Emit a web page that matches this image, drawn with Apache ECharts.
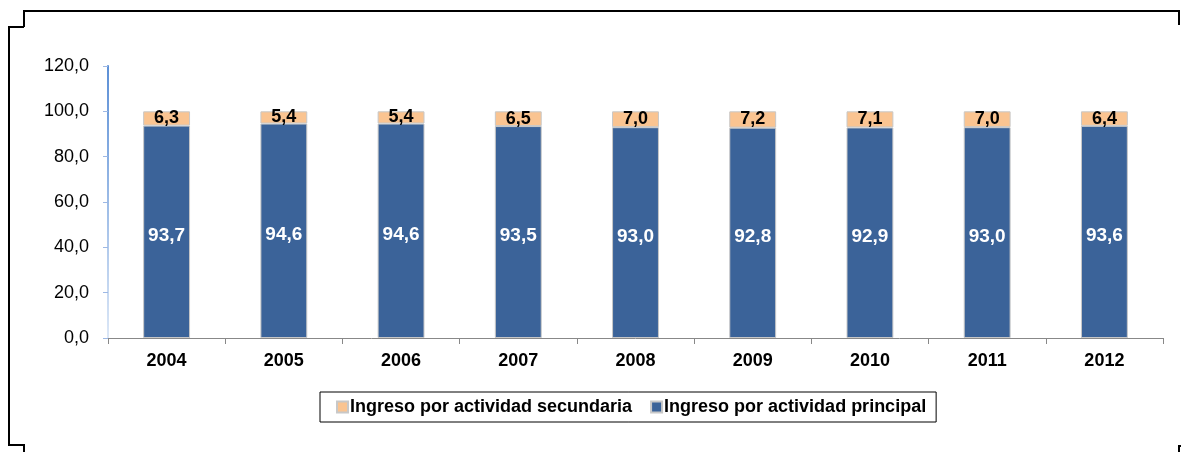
<!DOCTYPE html>
<html>
<head>
<meta charset="utf-8">
<script src="https://cdn.jsdelivr.net/npm/echarts@6/dist/echarts.min.js"></script>
<style>
  html, body { margin: 0; padding: 0; background: #fff; }
  #chart { width: 1181px; height: 452px; }
</style>
</head>
<body>
<div id="chart"></div>
<script>
const years = ['2004', '2005', '2006', '2007', '2008', '2009', '2010', '2011', '2012'];
const secundaria = [6.3, 5.4, 5.4, 6.5, 7.0, 7.2, 7.1, 7.0, 6.4];
const principal = [93.7, 94.6, 94.6, 93.5, 93.0, 92.8, 92.9, 93.0, 93.6];

const FONT = '"Liberation Sans Narrow", "Arial Narrow", "Liberation Sans", Arial, sans-serif';
const fmt = v => v.toFixed(1).replace('.', ',');

const chart = echarts.init(document.getElementById('chart'));

chart.setOption({
  animation: false,
  textStyle: { fontFamily: FONT },
  grid: { left: 108, right: 18, top: 66, bottom: 114 },
  legend: {
    left: 320,
    top: 392,
    data: ['Ingreso por actividad secundaria', 'Ingreso por actividad principal'],
    itemWidth: 11,
    itemHeight: 11,
    itemGap: 18,
    icon: 'rect',
    borderColor: '#000',
    borderWidth: 1,
    padding: [6, 10, 6, 16],
    textStyle: { fontFamily: FONT, fontSize: 18, fontWeight: 'bold', color: '#000', padding: [0, 0, 0, -3] }
  },
  xAxis: {
    type: 'category',
    data: years,
    axisLine: { lineStyle: { color: '#888', width: 1 } },
    axisTick: { show: true, length: 6, lineStyle: { color: '#888' } },
    axisLabel: { fontFamily: FONT, fontSize: 18, fontWeight: 'bold', color: '#000', margin: 14 }
  },
  yAxis: {
    type: 'value',
    min: 0,
    max: 120,
    interval: 20,
    splitLine: { show: false },
    axisLine: {
      show: true,
      lineStyle: {
        width: 2,
        color: new echarts.graphic.LinearGradient(0, 0, 0, 1, [
          { offset: 0, color: '#5b8fd6' },
          { offset: 1, color: '#dde8f7' }
        ])
      }
    },
    axisTick: { show: true, length: 5, lineStyle: { color: '#9db8e4' } },
    axisLabel: { fontFamily: FONT, fontSize: 18, color: '#000', margin: 19, formatter: fmt }
  },
  series: [
    {
      name: 'Ingreso por actividad principal',
      type: 'bar',
      stack: 'total',
      barWidth: '40%',
      data: principal,
      itemStyle: { color: '#3b6399', borderColor: '#c8c8c8', borderWidth: 1 },
      label: {
        show: true,
        position: 'inside',
        offset: [0, 4],
        formatter: p => fmt(p.value),
        color: '#fff',
        fontFamily: FONT,
        fontSize: 19,
        fontWeight: 'bold'
      }
    },
    {
      name: 'Ingreso por actividad secundaria',
      type: 'bar',
      stack: 'total',
      barWidth: '40%',
      data: secundaria,
      itemStyle: { color: '#fac491', borderColor: '#c8c8c8', borderWidth: 1 },
      label: {
        show: true,
        position: 'inside',
        formatter: p => fmt(p.value),
        color: '#000',
        fontFamily: FONT,
        fontSize: 18,
        fontWeight: 'bold'
      }
    }
  ],
  graphic: [
    { type: 'polyline', shape: { points: [[24, 27], [24, 11], [1179, 11], [1179, 25]] }, style: { stroke: '#000', lineWidth: 2, fill: null } },
    { type: 'polyline', shape: { points: [[8, 27], [24, 27]] }, style: { stroke: '#000', lineWidth: 2, fill: null } },
    { type: 'polyline', shape: { points: [[9, 27], [9, 445], [24, 445], [24, 452]] }, style: { stroke: '#000', lineWidth: 2, fill: null } },
    { type: 'polyline', shape: { points: [[1179, 452], [1179, 446], [1181, 446]] }, style: { stroke: '#000', lineWidth: 2, fill: null } }
  ]
});
</script>
</body>
</html>
